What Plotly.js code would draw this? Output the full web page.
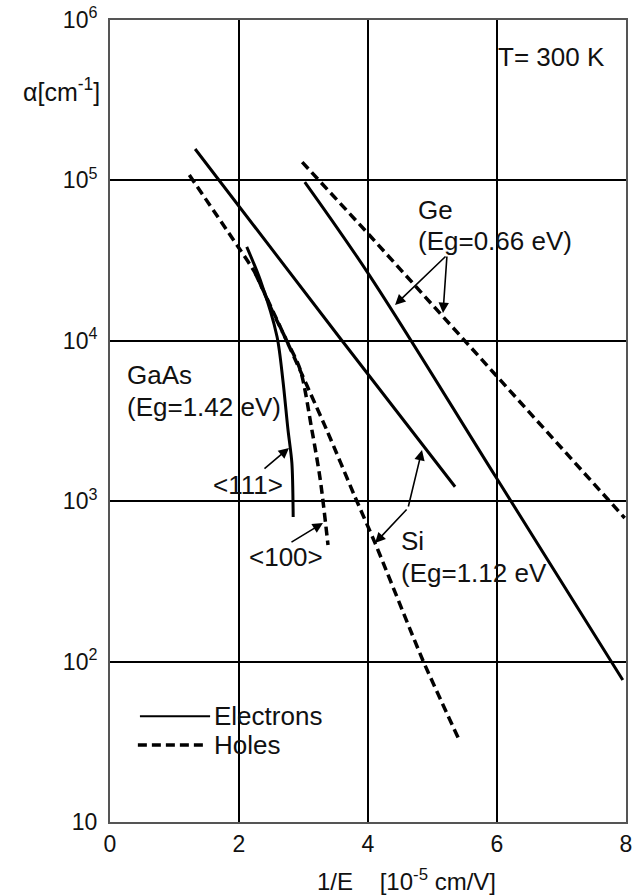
<!DOCTYPE html>
<html>
<head>
<meta charset="utf-8">
<script src="https://cdn.plot.ly/plotly-3.0.1.min.js"></script>
<style>html,body{margin:0;padding:0;background:#fff;}#chart{width:635px;height:895px;}</style>
</head>
<body>
<div id="chart"></div>
<script>
// ---- data ----
const siElecX = [1.32, 3.55, 5.35];
const siElecY = [1.57e5, 1.06e4, 1.23e3];
const siHoleX = [1.23, 2.02, 2.25, 2.53, 2.71, 3.36, 3.80, 4.11, 4.85, 5.40];
const siHoleY = [1.08e5, 3.68e4, 2.65e4, 1.49e4, 1.06e4, 2.78e3, 1.06e3, 548, 102, 33.4];
const gaas111X = [2.12, 2.33, 2.59, 2.68, 2.76, 2.82, 2.84];
const gaas111Y = [3.85e4, 2.39e4, 1.06e4, 5.7e3, 2.78e3, 1.73e3, 797];
const gaas100X = [2.25, 2.71, 2.95, 3.13, 3.26, 3.38];
const gaas100Y = [2.65e4, 1.06e4, 6.58e3, 2.78e3, 1.36e3, 533];
const geElecX = [3.02, 4.02, 5.98, 7.95];
const geElecY = [9.77e4, 2.57e4, 1.42e3, 76.8];
const geHoleX = [2.98, 4.02, 5.98, 7.98];
const geHoleY = [1.30e5, 4.57e4, 6.12e3, 786];

const xTickVals = [0, 2, 4, 6, 8];
const xTickText = ['0', '2', '4', '6', '8'];
const yTickVals = [10, 100, 1000, 1e4, 1e5, 1e6];
const yTickText = ['10', '10<sup>2</sup>', '10<sup>3</sup>', '10<sup>4</sup>', '10<sup>5</sup>', '10<sup>6</sup>'];

// ---- styles ----
const FONT = 'Liberation Sans, Arial, Helvetica, sans-serif';
const FS = 23;
const AFS = 26;
const solid = {color: '#000', width: 3};
const dashed = {color: '#000', width: 3.5, dash: '9px,5px'};

const traces = [
  {x: siElecX, y: siElecY, mode: 'lines', line: solid, name: 'Si electrons'},
  {x: siHoleX, y: siHoleY, mode: 'lines', line: Object.assign({shape: 'spline', smoothing: 0.6}, dashed), name: 'Si holes'},
  {x: gaas111X, y: gaas111Y, mode: 'lines', line: Object.assign({shape: 'spline', smoothing: 0.8}, solid), name: 'GaAs <111>'},
  {x: gaas100X, y: gaas100Y, mode: 'lines', line: Object.assign({shape: 'spline', smoothing: 0.8}, dashed), name: 'GaAs <100>'},
  {x: geElecX, y: geElecY, mode: 'lines', line: Object.assign({shape: 'spline', smoothing: 1}, solid), name: 'Ge electrons'},
  {x: geHoleX, y: geHoleY, mode: 'lines', line: dashed, name: 'Ge holes'}
];

function txt(x, y, text, extra) {
  return Object.assign({x: x, y: y, xref: 'x', yref: 'y', text: text, showarrow: false,
    xanchor: 'left', yanchor: 'middle', font: {family: FONT, size: AFS, color: '#111'}}, extra || {});
}
function arrow(x, y, ax, ay) {
  return {x: x, y: y, xref: 'x', yref: 'y', text: '', showarrow: true, ax: ax, ay: ay,
    arrowhead: 2, arrowsize: 1.3, arrowwidth: 1.6, arrowcolor: '#000'};
}

const annotations = [
  txt(5.98, 5.77, 'T= 300 K'),
  txt(4.74, 4.815, 'Ge'),
  txt(4.74, 4.622, '(Eg=0.66 eV)'),
  arrow(4.419, 4.223, 52, -50),
  arrow(5.163, 4.173, 4, -58),
  txt(0.23, 3.787, 'GaAs'),
  txt(0.23, 3.587, '(Eg=1.42 eV)'),
  txt(1.56, 3.101, '<111>'),
  arrow(2.775, 3.332, -26, 22),
  txt(2.12, 2.652, '<100>'),
  arrow(3.302, 2.864, -33, 20),
  txt(4.48, 2.752, 'Si'),
  txt(4.48, 2.552, '(Eg=1.12 eV'),
  arrow(4.837, 3.319, -14, 58),
  arrow(4.109, 2.739, 33, -35),
  txt(1.58, 1.661, 'Electrons'),
  txt(1.58, 1.480, 'Holes'),
  {xref: 'paper', yref: 'paper', x: -0.172, y: 0.913, xanchor: 'left', yanchor: 'middle', showarrow: false,
    text: 'α[cm<sup>-1</sup>]', font: {family: FONT, size: 25, color: '#111'}},
  {xref: 'paper', yref: 'paper', x: 0.397, y: -0.072, xanchor: 'left', yanchor: 'middle', showarrow: false,
    text: '1/E\u00a0\u00a0\u00a0\u00a0[10<sup>-5</sup> cm/V]', font: {family: FONT, size: 24, color: '#111'}}
];

const shapes = [
  {type: 'line', xref: 'paper', yref: 'paper', x0: 0.058, x1: 0.194, y0: 0.132, y1: 0.132, line: {color: '#000', width: 2}},
  {type: 'line', xref: 'paper', yref: 'paper', x0: 0.054, x1: 0.184, y0: 0.096, y1: 0.096, line: {color: '#000', width: 3.5, dash: '9px,5px'}}
];

const layout = {
  width: 635, height: 895,
  margin: {l: 110, r: 9, t: 20, b: 73, pad: 0},
  paper_bgcolor: '#fff', plot_bgcolor: '#fff',
  showlegend: false,
  font: {family: FONT, size: FS, color: '#111'},
  xaxis: {range: [0, 8], tickvals: xTickVals, ticktext: xTickText, showgrid: true, gridcolor: '#000', gridwidth: 2,
    zeroline: false, showline: true, mirror: true, linecolor: '#555', linewidth: 2, ticks: '', ticklen: 0,
    tickfont: {family: FONT, size: FS, color: '#111'}},
  yaxis: {type: 'log', range: [1, 6], tickvals: yTickVals, ticktext: yTickText, showgrid: true, gridcolor: '#000', gridwidth: 2,
    zeroline: false, showline: true, mirror: true, linecolor: '#555', linewidth: 2, ticks: 'outside', ticklen: 6, tickcolor: 'rgba(0,0,0,0)',
    tickfont: {family: FONT, size: FS, color: '#111'}},
  annotations: annotations,
  shapes: shapes
};

Plotly.newPlot('chart', traces, layout, {staticPlot: true, displayModeBar: false});
</script>
</body>
</html>
